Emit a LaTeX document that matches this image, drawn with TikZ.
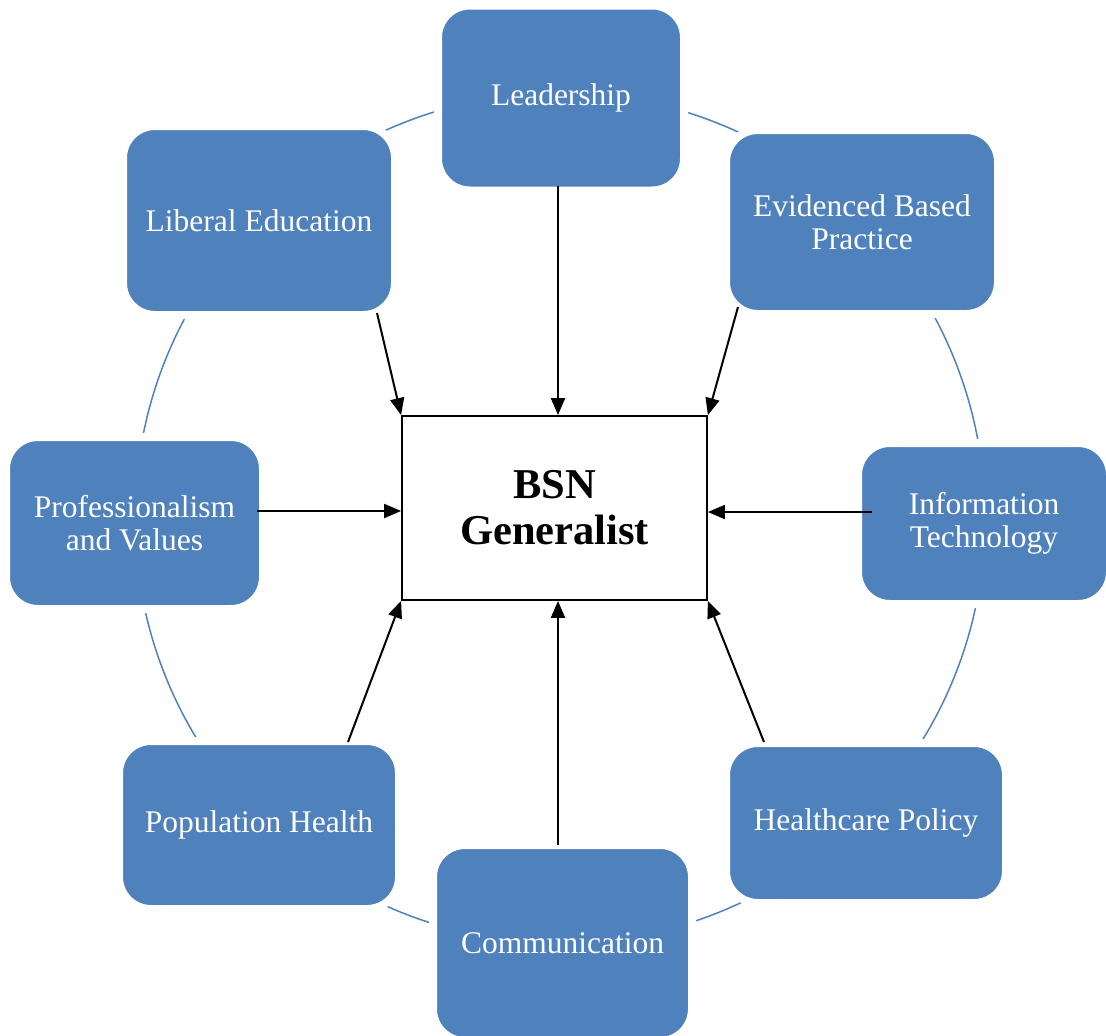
\documentclass[tikz,border=0pt]{standalone}
\usepackage{fontspec}
\setmainfont{Liberation Serif}
\usetikzlibrary{arrows.meta}
\definecolor{boxblue}{HTML}{4F81BD}
\begin{document}
\begin{tikzpicture}[x=1pt,y=-1pt,
  topic/.style={draw=white,line width=8pt,fill=boxblue,rounded corners=32pt,text=white,
    font=\fontsize{31.5}{33}\selectfont,align=center,inner sep=0pt},
  link/.style={line width=2pt,-{Triangle[length=17pt,width=14pt]}}]
\useasboundingbox (0,0) rectangle (1106,1036);
\draw[boxblue,line width=1.5pt] (560,518) circle[radius=425];
\node[topic,minimum width=246pt,minimum height=185pt] (lead) at (561,98) {Leadership};
\node[topic,minimum width=272pt,minimum height=189pt] (lib) at (259,220.5) {Liberal Education};
\node[topic,minimum width=272pt,minimum height=184pt] (ebp) at (862,222) {Evidenced Based\\Practice};
\node[topic,minimum width=257pt,minimum height=172pt] (prof) at (134.5,523) {Professionalism\\and Values};
\node[topic,minimum width=252pt,minimum height=161pt] (it) at (984,523.5) {Information\\Technology};
\node[topic,minimum width=280pt,minimum height=168pt] (pop) at (259,825) {Population Health};
\node[topic,minimum width=280pt,minimum height=160pt] (hp) at (866,823) {Healthcare Policy};
\node[topic,minimum width=259pt,minimum height=196pt] (com) at (562.5,943) {Communication};
\node[draw,line width=1.8pt,fill=white,minimum width=305pt,minimum height=184pt,
  font=\bfseries\fontsize{42.5}{46}\selectfont,align=center] (bsn) at (554.5,508) {BSN\\Generalist};
\coordinate (a1) at (558,186);
\coordinate (a2) at (377,313);
\coordinate (a3) at (738,307);
\coordinate (a4) at (257,511);
\coordinate (a5) at (872,512);
\coordinate (a6) at (348,742);
\coordinate (a7) at (764,742);
\coordinate (a8) at (558,845);
\draw[link] (a1) -- (a1 |- bsn.north);
\draw[link] (a2) -- (bsn.north west);
\draw[link] (a3) -- (bsn.north east);
\draw[link] (a4) -- (a4 -| bsn.west);
\draw[link] (a5) -- (a5 -| bsn.east);
\draw[link] (a6) -- (bsn.south west);
\draw[link] (a7) -- (bsn.south east);
\draw[link] (a8) -- (a8 |- bsn.south);
\end{tikzpicture}
\end{document}
